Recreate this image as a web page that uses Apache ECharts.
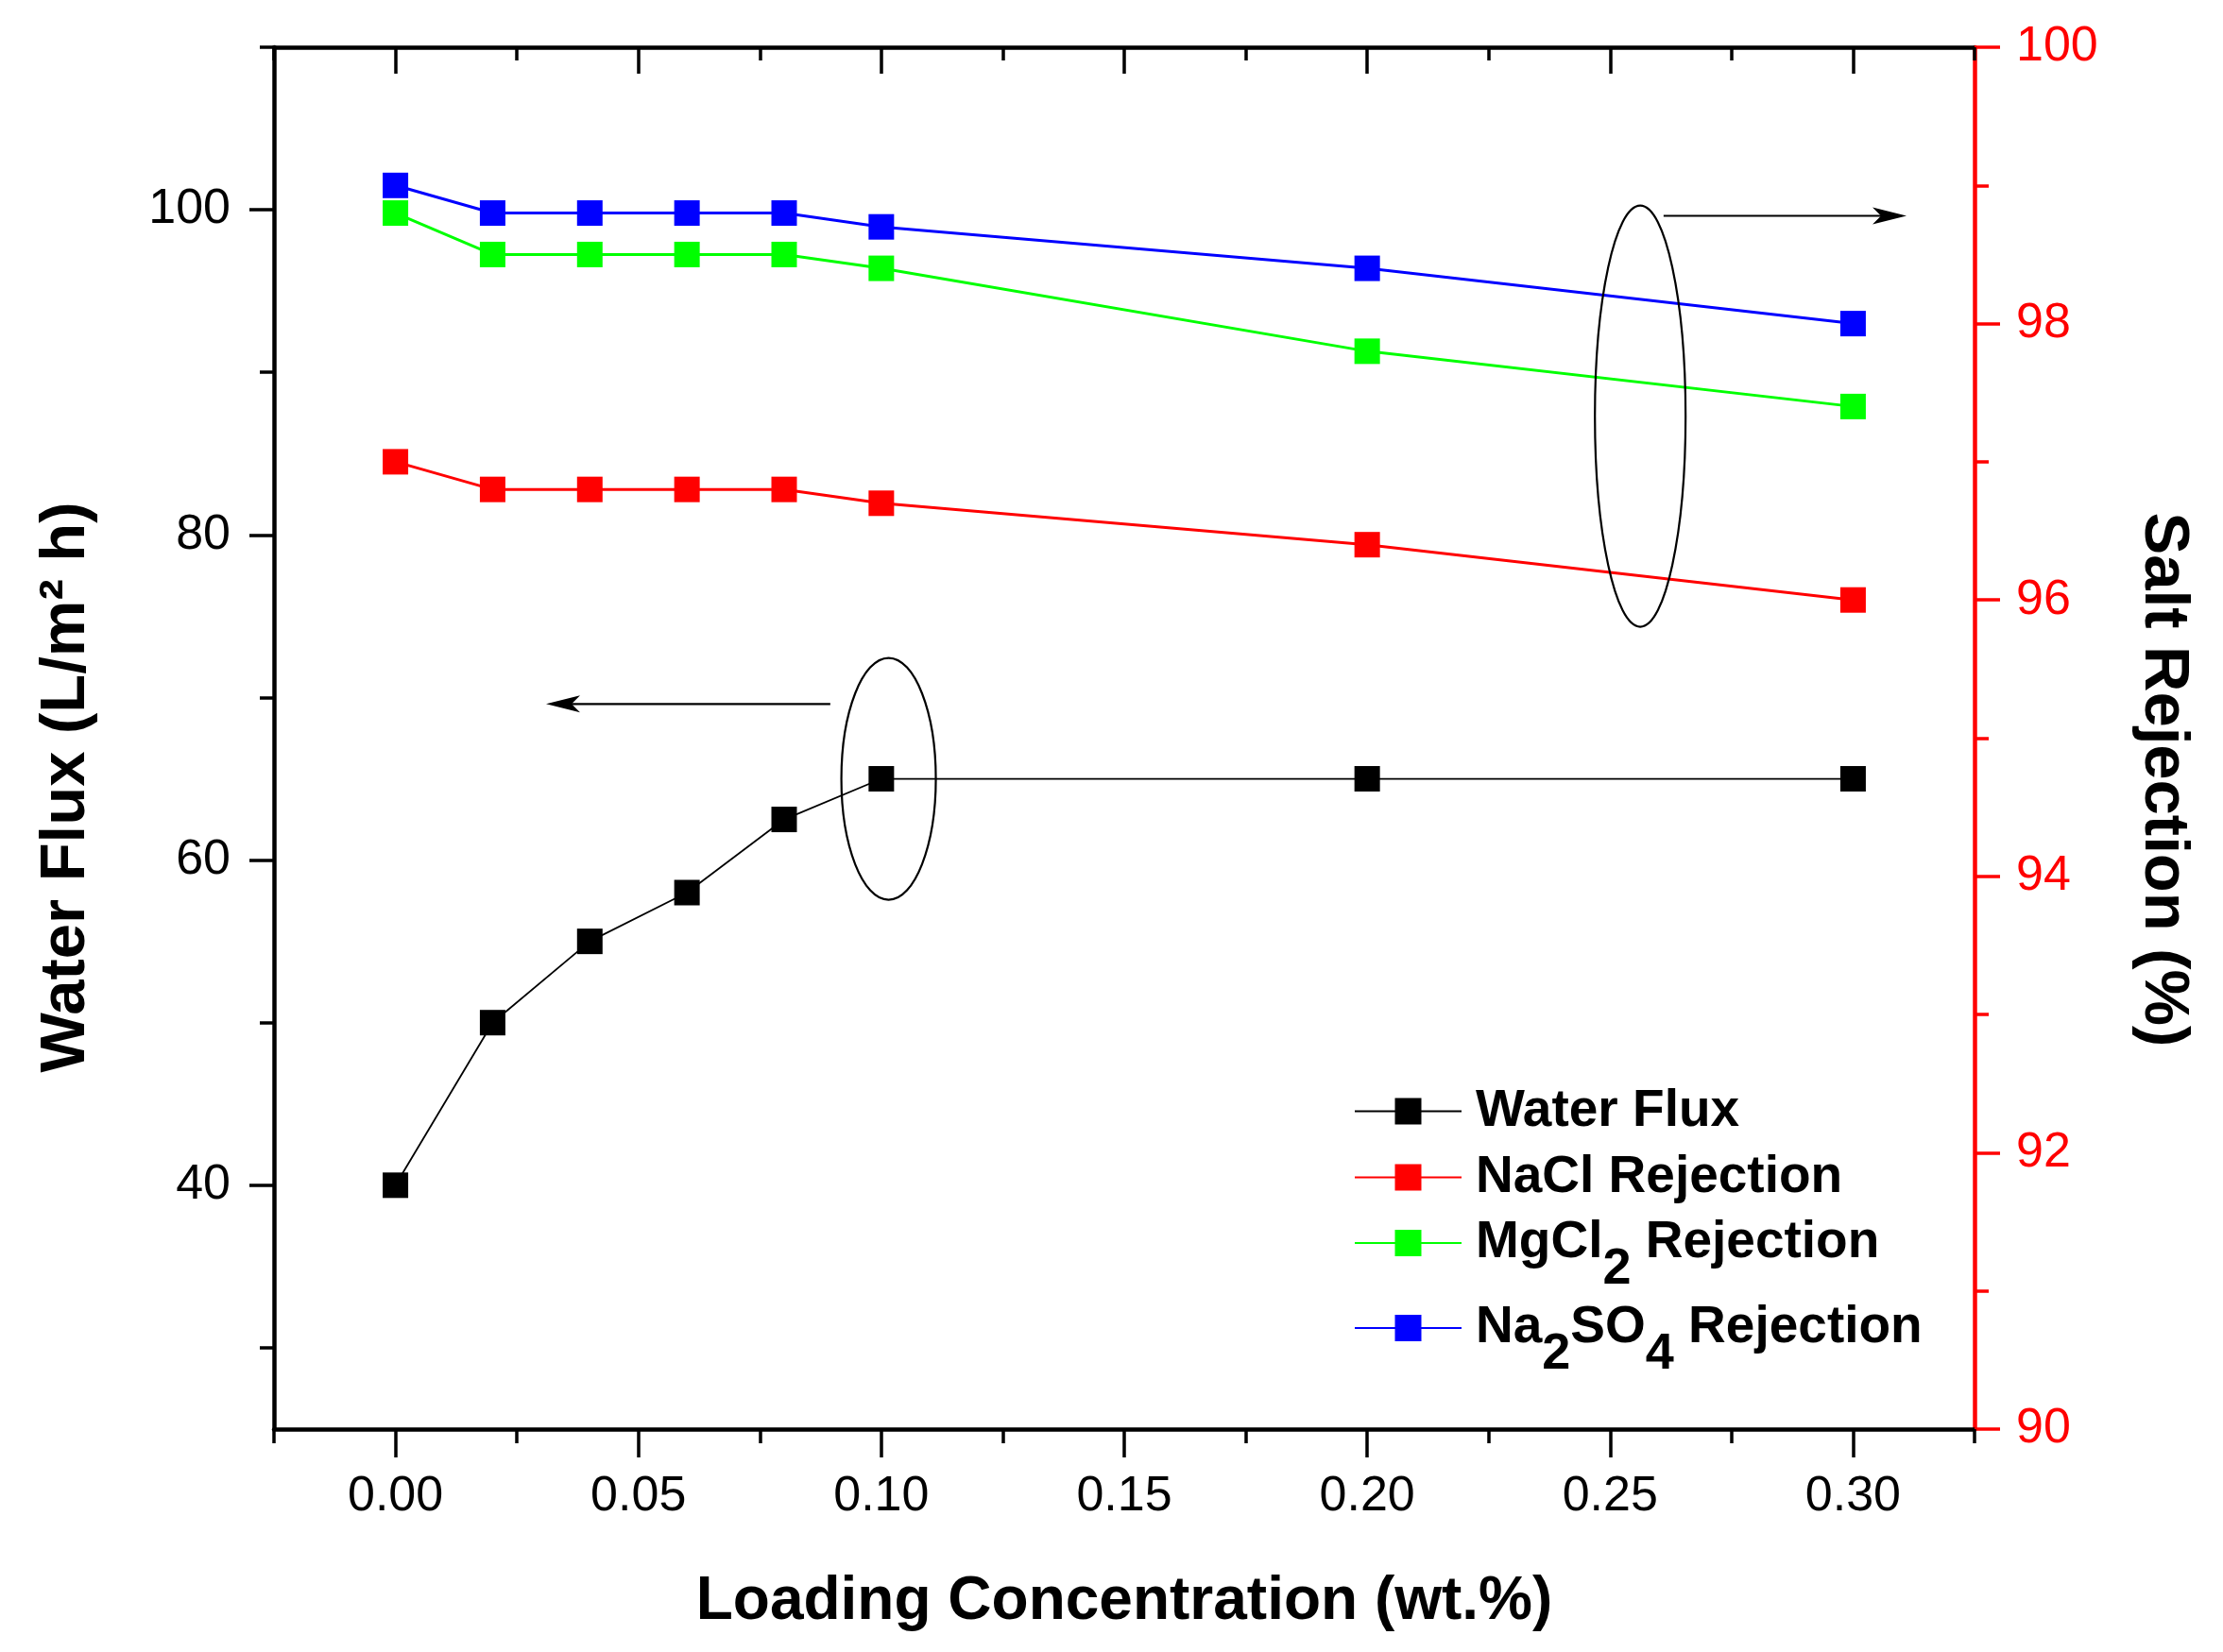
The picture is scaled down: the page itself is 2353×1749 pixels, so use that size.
<!DOCTYPE html>
<html>
<head>
<meta charset="utf-8">
<script src="https://cdn.jsdelivr.net/npm/echarts@6/dist/echarts.min.js"></script>
<style>
html,body{margin:0;padding:0;background:#fff;}
#chart{width:2353px;height:1749px;}
</style>
</head>
<body>
<div id="chart"></div>
<script>
// ---- data ----
const loading = [0.00, 0.02, 0.04, 0.06, 0.08, 0.10, 0.20, 0.30];
const waterFlux = [40, 50, 55, 58, 62.5, 65, 65, 65];
const naclRejection = [97.0, 96.8, 96.8, 96.8, 96.8, 96.7, 96.4, 96.0];
const mgcl2Rejection = [98.8, 98.5, 98.5, 98.5, 98.5, 98.4, 97.8, 97.4];
const na2so4Rejection = [99.0, 98.8, 98.8, 98.8, 98.8, 98.7, 98.4, 98.0];
const seriesNames = ['Water Flux', 'NaCl Rejection', 'MgCl2 Rejection', 'Na2SO4 Rejection'];
const legendRich = {
  'Water Flux': '{n|Water Flux}',
  'NaCl Rejection': '{n|NaCl Rejection}',
  'MgCl2 Rejection': '{n|MgCl}{s|2}{m| Rejection}',
  'Na2SO4 Rejection': '{n|Na}{s|2}{m|SO}{s|4}{m| Rejection}'
};
const xLabelValues = [0, 0.05, 0.10, 0.15, 0.20, 0.25, 0.30];
const xMinorValues = [-0.025, 0.025, 0.075, 0.125, 0.175, 0.225, 0.275, 0.325];
const yLeftLabelValues = [40, 60, 80, 100];
const yLeftMinorValues = [30, 50, 70, 90, 110];
const yRightLabelValues = [90, 92, 94, 96, 98, 100];
const yRightMinorValues = [91, 93, 95, 97, 99];
// annotation anchors (data coordinates)
const ellipseFluxCenter = [0.1015, 65];      // left axis
const arrowFlux = [[0.0895, 69.6], [0.031, 69.6]]; // left axis
const ellipseRejCenter = [0.2562, 97.33];    // right axis
const arrowRej = [[0.261, 98.78], [0.311, 98.78]]; // right axis

const FONT = 'Liberation Sans, Arial, Helvetica, sans-serif';
const chart = echarts.init(document.getElementById('chart'), null, {renderer: 'canvas'});

function pairs(ys) { return loading.map((x, i) => [x, ys[i]]); }

function xAxisDef(pos, ticks, inside, showLine, len, showLabel) {
  return {
    type: 'value', min: -0.025, max: 0.325, position: pos,
    axisLine: {show: showLine, onZero: false, lineStyle: {color: '#000', width: 4.5}},
    axisTick: {show: true, inside: inside, length: len, customValues: ticks, lineStyle: {width: 3.5, color: '#000'}},
    axisLabel: showLabel ? {show: true, customValues: xLabelValues, margin: 46, fontSize: 52, fontFamily: FONT, color: '#000',
      formatter: v => v.toFixed(2)} : {show: false},
    splitLine: {show: false}
  };
}

const legendBase = (name, top) => ({
  show: true, data: [name], orient: 'vertical', left: 1433, top: top,
  padding: 0, itemWidth: 113, itemHeight: 35, itemGap: 0,
  formatter: nm => legendRich[nm],
  textStyle: {
    fontFamily: FONT, fontSize: 55, fontWeight: 'bold', color: '#000',
    rich: {
      n: {fontFamily: FONT, fontSize: 55, fontWeight: 'bold', color: '#000', lineHeight: 60, verticalAlign: 'middle', padding: [0, 0, 0, 10]},
      m: {fontFamily: FONT, fontSize: 55, fontWeight: 'bold', color: '#000', lineHeight: 60, verticalAlign: 'middle'},
      s: {fontFamily: FONT, fontSize: 54, fontWeight: 'bold', color: '#000', lineHeight: 60, verticalAlign: 'middle', padding: [56, 0, 0, 0]}
    }
  }
});

const option = {
  backgroundColor: '#fff',
  animation: false,
  grid: {left: 290, right: 263, top: 50, bottom: 236, containLabel: false, outerBoundsMode: 'none'},
  legend: [
    legendBase('Water Flux', 1149),
    legendBase('NaCl Rejection', 1219),
    legendBase('MgCl2 Rejection', 1261),
    legendBase('Na2SO4 Rejection', 1351)
  ],
  xAxis: [
    Object.assign(xAxisDef('bottom', xLabelValues, false, true, 30, true), {
      name: 'Loading Concentration (wt.%)', nameLocation: 'middle', nameGap: 151,
      nameTextStyle: {fontFamily: FONT, fontSize: 64, fontWeight: 'bold', color: '#000'}
    }),
    xAxisDef('bottom', xMinorValues, false, false, 15, false),
    xAxisDef('top', xLabelValues, true, true, 28, false),
    xAxisDef('top', xMinorValues, true, false, 14, false)
  ],
  yAxis: [
    {
      type: 'value', min: 25, max: 110, position: 'left',
      axisLine: {show: true, onZero: false, lineStyle: {color: '#000', width: 4.5}},
      axisTick: {show: true, length: 26, customValues: yLeftLabelValues, lineStyle: {width: 3.5, color: '#000'}},
      axisLabel: {show: true, customValues: yLeftLabelValues, margin: 46, fontSize: 52, fontFamily: FONT, color: '#000'},
      splitLine: {show: false},
      name: 'Water Flux (L/m\u00B2 h)', nameLocation: 'middle', nameGap: 186, nameRotate: 90,
      nameTextStyle: {fontFamily: FONT, fontSize: 67, fontWeight: 'bold', color: '#000', padding: [0, 104, 0, 0]}
    },
    {
      type: 'value', min: 25, max: 110, position: 'left',
      axisLine: {show: false, onZero: false},
      axisTick: {show: true, length: 15, customValues: yLeftMinorValues, lineStyle: {width: 3.5, color: '#000'}},
      axisLabel: {show: false}, splitLine: {show: false}
    },
    {
      type: 'value', min: 90, max: 100, position: 'right',
      axisLine: {show: true, onZero: false, lineStyle: {color: '#FF0000', width: 4.5}},
      axisTick: {show: true, length: 27, customValues: yRightLabelValues, lineStyle: {width: 3.5, color: '#FF0000'}},
      axisLabel: {show: true, customValues: yRightLabelValues, margin: 44, fontSize: 52, fontFamily: FONT, color: '#FF0000'},
      splitLine: {show: false},
      name: 'Salt Rejection (%)', nameLocation: 'middle', nameGap: 166, nameRotate: -90,
      nameTextStyle: {fontFamily: FONT, fontSize: 67, fontWeight: 'bold', color: '#000', padding: [0, 0, 0, 88]}
    },
    {
      type: 'value', min: 90, max: 100, position: 'right',
      axisLine: {show: false, onZero: false},
      axisTick: {show: true, length: 15, customValues: yRightMinorValues, lineStyle: {width: 3.5, color: '#FF0000'}},
      axisLabel: {show: false}, splitLine: {show: false}
    }
  ],
  series: [
    {name: seriesNames[0], type: 'line', xAxisIndex: 0, yAxisIndex: 0, data: pairs(waterFlux),
     symbol: 'rect', symbolSize: 27, color: '#000', lineStyle: {color: '#000', width: 1.8}, itemStyle: {color: '#000'}, z: 5},
    {name: seriesNames[1], type: 'line', xAxisIndex: 0, yAxisIndex: 2, data: pairs(naclRejection),
     symbol: 'rect', symbolSize: 27, color: '#FF0000', lineStyle: {color: '#FF0000', width: 3}, itemStyle: {color: '#FF0000'}},
    {name: seriesNames[2], type: 'line', xAxisIndex: 0, yAxisIndex: 2, data: pairs(mgcl2Rejection),
     symbol: 'rect', symbolSize: 27, color: '#00FF00', lineStyle: {color: '#00FF00', width: 3}, itemStyle: {color: '#00FF00'}},
    {name: seriesNames[3], type: 'line', xAxisIndex: 0, yAxisIndex: 2, data: pairs(na2so4Rejection),
     symbol: 'rect', symbolSize: 27, color: '#0000FF', lineStyle: {color: '#0000FF', width: 3}, itemStyle: {color: '#0000FF'}}
  ]
};
chart.setOption(option);

// ---- annotations placed through the axes ----
const L = p => chart.convertToPixel({xAxisIndex: 0, yAxisIndex: 0}, p);
const R = p => chart.convertToPixel({xAxisIndex: 0, yAxisIndex: 2}, p);
function arrow(p1, p2) {
  const dir = Math.sign(p2[0] - p1[0]);
  const headLen = 36, headHalf = 9;
  return [
    {type: 'line', shape: {x1: p1[0], y1: p1[1], x2: p2[0] - dir * headLen * 0.6, y2: p2[1]}, style: {stroke: '#000', lineWidth: 2.2}, z: 10},
    {type: 'polygon', shape: {points: [[p2[0], p2[1]], [p2[0] - dir * headLen, p2[1] - headHalf], [p2[0] - dir * headLen * 0.75, p2[1]], [p2[0] - dir * headLen, p2[1] + headHalf]]},
     style: {fill: '#000'}, z: 10}
  ];
}
const e1 = L(ellipseFluxCenter), e2 = R(ellipseRejCenter);
const graphics = [
  {type: 'ellipse', shape: {cx: e1[0], cy: e1[1], rx: 50, ry: 128}, style: {fill: 'none', stroke: '#000', lineWidth: 2.2}, z: 10},
  {type: 'ellipse', shape: {cx: e2[0], cy: e2[1], rx: 48, ry: 223}, style: {fill: 'none', stroke: '#000', lineWidth: 2.2}, z: 10}
].concat(arrow(L(arrowFlux[0]), L(arrowFlux[1]))).concat(arrow(R(arrowRej[0]), R(arrowRej[1])));
chart.setOption({graphic: graphics});
</script>
</body>
</html>
